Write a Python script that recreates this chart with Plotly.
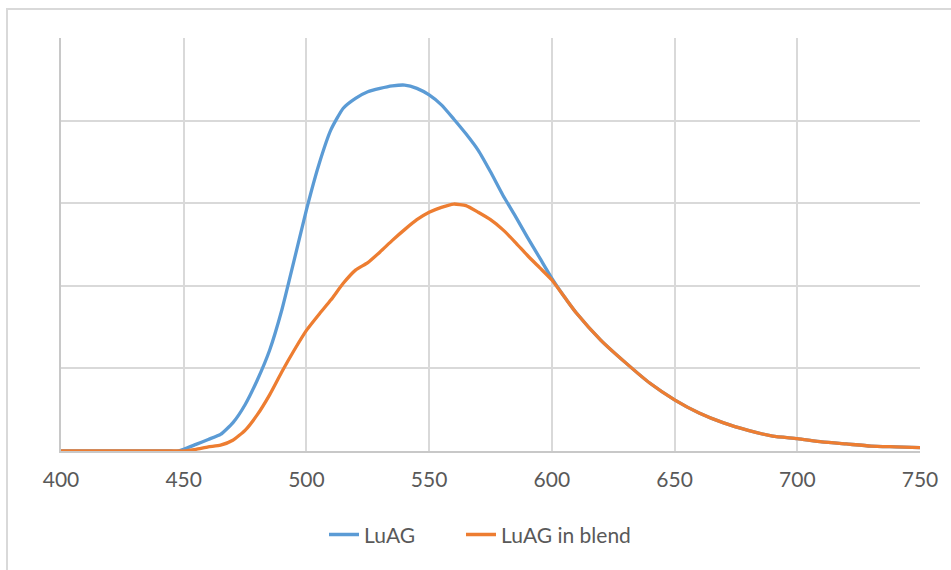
import plotly.graph_objects as go

wavelength = [400, 445, 448, 450, 455, 460, 465, 470, 475, 480, 485, 490, 495, 500, 505, 510,
              515, 520, 525, 530, 535, 540, 545, 550, 555, 560, 565, 570, 575, 580, 585,
              590, 595, 600, 605, 610, 620, 630, 640, 650, 660, 670, 680, 690, 700,
              710, 720, 730, 740, 750]

luag = [0, 0, 0, 0.02, 0.08, 0.14, 0.2, 0.34, 0.56, 0.86, 1.22, 1.71, 2.31, 2.92, 3.46, 3.89,
        4.15, 4.27, 4.35, 4.39, 4.42, 4.43, 4.39, 4.31, 4.19, 4.02, 3.84, 3.64, 3.38, 3.1, 2.85,
        2.59, 2.34, 2.09, 1.87, 1.67, 1.34, 1.07, 0.82, 0.62, 0.46, 0.34, 0.25, 0.18, 0.15,
        0.11, 0.085, 0.06, 0.05, 0.04]

luag_blend = [0, 0, 0, 0, 0.02, 0.05, 0.07, 0.13, 0.25, 0.44, 0.68, 0.96, 1.22, 1.46, 1.65, 1.83,
              2.03, 2.19, 2.28, 2.41, 2.55, 2.68, 2.80, 2.89, 2.95, 2.99, 2.97, 2.89, 2.80, 2.68, 2.53,
              2.37, 2.22, 2.07, 1.87, 1.67, 1.34, 1.07, 0.82, 0.62, 0.46, 0.34, 0.25, 0.18, 0.15,
              0.11, 0.085, 0.06, 0.05, 0.04]

x_ticks = [400, 450, 500, 550, 600, 650, 700, 750]

fig = go.Figure()
fig.add_trace(go.Scatter(x=wavelength, y=luag, mode="lines", name="LuAG", legend="legend",
                         line=dict(color="#5B9BD5", width=3.3, shape="spline", smoothing=0.5)))
fig.add_trace(go.Scatter(x=wavelength, y=luag_blend, mode="lines", name="LuAG in blend",
                         legend="legend2",
                         line=dict(color="#ED7D31", width=3.3, shape="spline", smoothing=0.5)))

legend_style = dict(orientation="h", xanchor="left", y=-0.203, yanchor="middle",
                    font=dict(size=21, color="#595959"), bgcolor="rgba(0,0,0,0)")

fig.update_layout(
    width=951, height=570,
    margin=dict(l=61, r=31, t=38, b=119),
    paper_bgcolor="white", plot_bgcolor="white",
    font=dict(family="Lato, 'Open Sans', sans-serif", size=21, color="#595959"),
    showlegend=True,
    legend=dict(x=(324 - 61) / 859, **legend_style),
    legend2=dict(x=(461 - 61) / 859, **legend_style),
    xaxis=dict(range=[400, 750], tickvals=x_ticks, showgrid=True, gridcolor="#D9D9D9",
               gridwidth=2, zeroline=False, showline=True, linecolor="#C8C8C8", linewidth=2,
               ticks="", ticklabelstandoff=9, tickfont=dict(size=21, color="#595959"),
               mirror=False),
    yaxis=dict(range=[0, 5], dtick=1, showgrid=True, gridcolor="#D9D9D9", gridwidth=2,
               zeroline=False, showline=True, linecolor="#C8C8C8", linewidth=2,
               showticklabels=False, ticks=""),
)

# outer chart-area border (top and left edges visible)
fig.add_shape(type="rect", xref="paper", yref="paper",
              x0=(7 - 61) / 859, x1=1.2, y0=-0.6, y1=(451 - 9) / 413,
              line=dict(color="#D9D9D9", width=2), layer="below")

fig.write_html("out.html")
